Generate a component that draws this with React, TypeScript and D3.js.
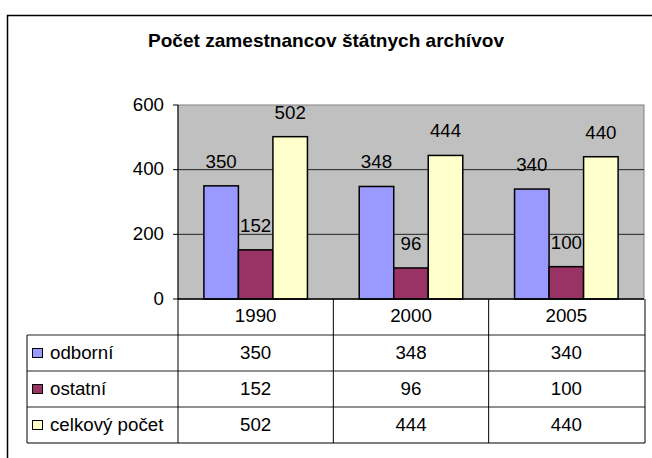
import * as d3 from "d3";

const years = ["1990", "2000", "2005"];
const seriesNames = ["odborní", "ostatní", "celkový počet"];
const odborni = [350, 348, 340];
const ostatni = [152, 96, 100];
const celkovy = [502, 444, 440];
const yTicks = [0, 200, 400, 600];
const colors = ["#9999FF", "#993366", "#FFFFCC"];

const seriesValues = [odborni, ostatni, celkovy];

const W = 652;
const H = 458;
const plot = { left: 178, right: 644, top: 105, bottom: 299 };
const tableLeft = 27;
const tableBottom = 443;
const font = "'Liberation Sans', Arial, sans-serif";

const Txt = ({ x, y, anchor = "middle", size = 17.5, sx = 1.07, weight = "normal", base = "central", children }: any) => (
  <g transform={`translate(${x},${y}) scale(${sx},1)`}>
    <text
      textAnchor={anchor}
      dominantBaseline={base}
      fontSize={size}
      fontWeight={weight}
      fontFamily={font}
      fill="#000"
    >
      {children}
    </text>
  </g>
);

const App = () => {
  const xScale = d3.scaleBand().domain(years).range([plot.left, plot.right]);
  const inner = d3
    .scaleBand()
    .domain(seriesNames)
    .range([0, xScale.bandwidth()])
    .paddingInner(0)
    .paddingOuter(0.75);
  const yScale = d3.scaleLinear().domain([0, 600]).range([plot.bottom, plot.top]);
  const rows = d3
    .scaleBand()
    .domain(["head", ...seriesNames])
    .range([plot.bottom, tableBottom]);

  return (
    <svg
      width={W}
      height={H}
      style={{ position: "absolute", left: 0, top: 0, background: "#fff" }}
    >
      <rect x={7.5} y={15.5} width={700} height={500} fill="#fff" stroke="#000" strokeWidth={1.5} />
      <Txt x={326} y={47} size={17.5} sx={1.09} weight="bold" base="alphabetic">
        Počet zamestnancov štátnych archívov
      </Txt>

      {/* plot area */}
      <rect
        x={plot.left}
        y={plot.top}
        width={plot.right - plot.left}
        height={plot.bottom - plot.top}
        fill="#C0C0C0"
        stroke="#808080"
        strokeWidth={1}
      />
      {yTicks.map((t) => (
        <g key={t}>
          {t > 0 && t < 600 && (
            <line x1={plot.left} x2={plot.right} y1={yScale(t)} y2={yScale(t)} stroke="#222" strokeWidth={1} />
          )}
          <line x1={plot.left - 5} x2={plot.left} y1={yScale(t)} y2={yScale(t)} stroke="#000" />
          <Txt x={164} y={yScale(t)} anchor="end">
            {t}
          </Txt>
        </g>
      ))}
      <line x1={plot.left} x2={plot.left} y1={plot.top} y2={plot.bottom} stroke="#000" />

      {years.map((yr, i) => (
        <g key={yr} transform={`translate(${xScale(yr)},0)`}>
          {seriesNames.map((s, j) => {
            const v = seriesValues[j][i];
            const bx = inner(s)!;
            return (
              <g key={s}>
                <rect
                  x={bx}
                  y={yScale(v)}
                  width={inner.bandwidth()}
                  height={plot.bottom - yScale(v)}
                  fill={colors[j]}
                  stroke="#000"
                  strokeWidth={1.5}
                />
                <Txt x={bx + inner.bandwidth() / 2} y={yScale(v) - 18} base="alphabetic">
                  {v}
                </Txt>
              </g>
            );
          })}
        </g>
      ))}
      <line x1={plot.left} x2={plot.right} y1={plot.bottom} y2={plot.bottom} stroke="#000" strokeWidth={1.5} />

      {/* data table */}
      {seriesNames.map((s) => (
        <line
          key={s}
          x1={tableLeft}
          x2={plot.right + 1}
          y1={rows(s)!}
          y2={rows(s)!}
          stroke="#222"
        />
      ))}
      <line x1={tableLeft} x2={plot.right + 1} y1={tableBottom} y2={tableBottom} stroke="#000" />
      <line x1={tableLeft} x2={tableLeft} y1={rows(seriesNames[0])!} y2={tableBottom} stroke="#000" />
      {[...years.map((y) => xScale(y)!), plot.right + 1].map((x, k) => (
        <line key={k} x1={x} x2={x} y1={plot.bottom} y2={tableBottom} stroke="#000" />
      ))}
      {years.map((yr) => (
        <Txt key={yr} x={xScale(yr)! + xScale.bandwidth() / 2} y={rows("head")! + rows.bandwidth() / 2 - 1}>
          {yr}
        </Txt>
      ))}
      {seriesNames.map((s, j) => {
        const cy = rows(s)! + rows.bandwidth() / 2;
        return (
          <g key={s}>
            <rect x={32.5} y={cy - 4.5} width={10} height={9} fill={colors[j]} stroke="#000" strokeWidth={1} />
            <Txt x={50} y={cy} anchor="start">
              {s}
            </Txt>
            {years.map((yr, i) => (
              <Txt key={yr} x={xScale(yr)! + xScale.bandwidth() / 2} y={cy}>
                {seriesValues[j][i]}
              </Txt>
            ))}
          </g>
        );
      })}
    </svg>
  );
};

export default App;
